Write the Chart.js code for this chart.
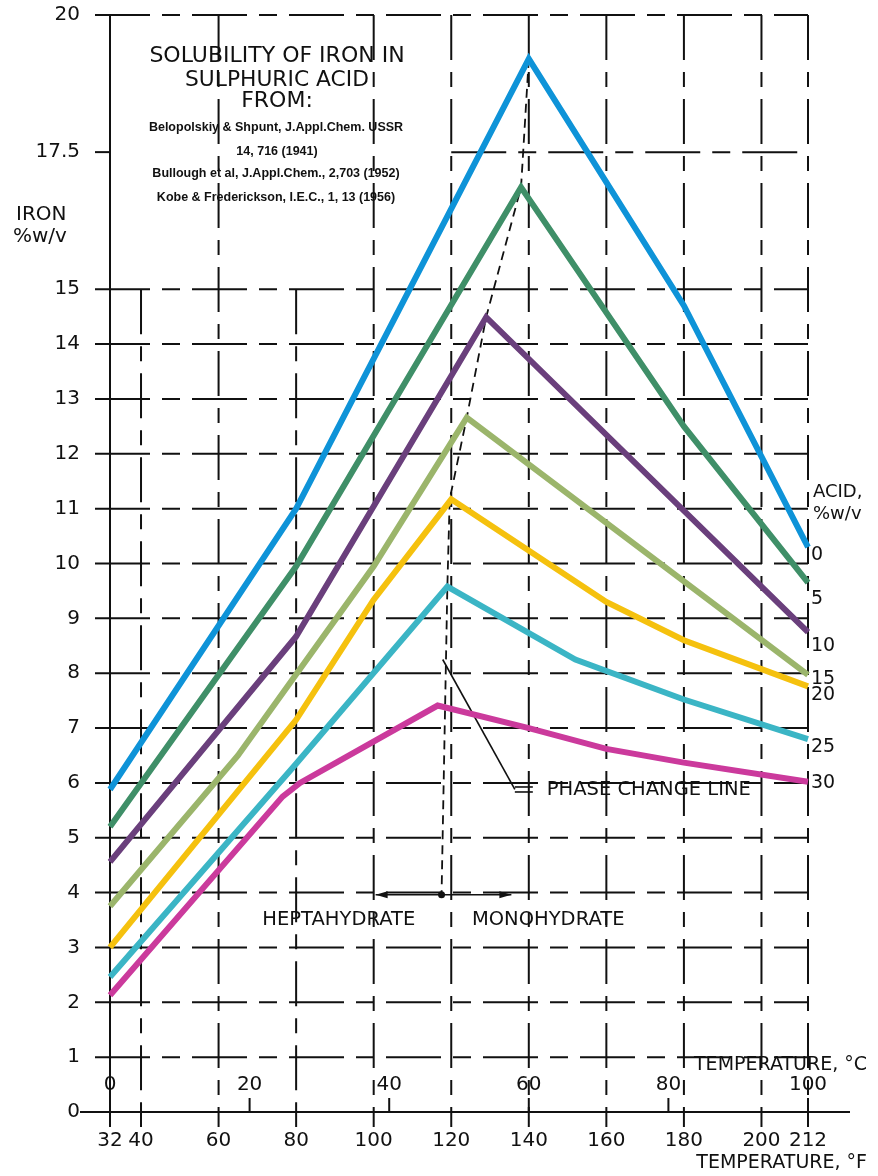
<!DOCTYPE html>
<html>
<head>
<meta charset="utf-8">
<script src="https://cdn.jsdelivr.net/npm/chart.js@4.4.1/dist/chart.umd.min.js"></script>
<style>
  html, body { margin: 0; padding: 0; background: #fff; }
  #wrap { width: 878px; height: 1176px; position: relative; }
</style>
</head>
<body>
<div id="wrap"><canvas id="solubilityChart"></canvas></div>
<script>
// Acid strength, %w/v (one curve each)
const acidLabels = ['0', '5', '10', '15', '20', '25', '30'];

// Temperature (deg F) and iron solubility (%w/v)
const acid0Temp = [32, 80, 140, 180, 212];
const acid0Iron = [5.88, 11.0, 19.2, 14.7, 10.3];
const acid5Temp = [32, 80, 138, 180, 212];
const acid5Iron = [5.2, 9.95, 16.86, 12.5, 9.65];
const acid10Temp = [32, 80, 129, 212];
const acid10Iron = [4.56, 8.67, 14.49, 8.75];
const acid15Temp = [32, 65, 100, 124, 212];
const acid15Iron = [3.75, 6.5, 9.95, 12.66, 7.97];
const acid20Temp = [32, 80, 100, 120, 160, 180, 212];
const acid20Iron = [3.0, 7.15, 9.34, 11.17, 9.3, 8.6, 7.76];
const acid25Temp = [32, 80, 119, 152, 180, 212];
const acid25Iron = [2.46, 6.35, 9.58, 8.25, 7.52, 6.8];
const acid30Temp = [32, 76.5, 81, 116.5, 140, 160, 180, 212];
const acid30Iron = [2.13, 5.75, 6.0, 7.41, 7.0, 6.62, 6.37, 6.02];

// Phase change line (monohydrate / heptahydrate boundary)
const phaseTemp = [140, 138, 129, 124, 119.6, 119, 117.5];
const phaseIron = [19.2, 16.86, 14.49, 12.66, 11.17, 9.58, 3.96];

// Axis ticks
const ironTicks = [0, 1, 2, 3, 4, 5, 6, 7, 8, 9, 10, 11, 12, 13, 14, 15, 17.5, 20];
const tempFTicks = [32, 40, 60, 80, 100, 120, 140, 160, 180, 200, 212];
const tempCTicks = [0, 20, 40, 60, 80, 100];

const seriesTemps = [acid0Temp, acid5Temp, acid10Temp, acid15Temp, acid20Temp, acid25Temp, acid30Temp];
const seriesIron = [acid0Iron, acid5Iron, acid10Iron, acid15Iron, acid20Iron, acid25Iron, acid30Iron];
const seriesColors = ['#0e93d8', '#3f8f68', '#6a3f7c', '#9bb56b', '#f5c10e', '#3bb5c5', '#cb3a9c'];
const labelIronPos = [10.15, 9.35, 8.5, 7.9, 7.6, 6.65, 6.0];

const FONT = '"DejaVu Sans", sans-serif';
const INK = '#111';

function toPoints(xs, ys) {
    return xs.map((v, i) => ({ x: v, y: ys[i] }));
}

function seg(ctx, x1, y1, x2, y2) {
    ctx.beginPath();
    ctx.moveTo(x1, y1);
    ctx.lineTo(x2, y2);
    ctx.stroke();
}

function arrowHead(ctx, x, y, dir) {
    ctx.beginPath();
    ctx.moveTo(x, y);
    ctx.lineTo(x - dir * 12, y - 3.5);
    ctx.lineTo(x - dir * 12, y + 3.5);
    ctx.closePath();
    ctx.fill();
}

// Grid, axes and the phase change markings, drawn under the curves
const paperGrid = {
    id: 'paperGrid',
    beforeDatasetsDraw(chart) {
        const { ctx, chartArea: a, scales: { x, y } } = chart;
        ctx.save();
        ctx.strokeStyle = INK;
        ctx.fillStyle = INK;
        ctx.lineWidth = 2;

        // horizontal dashed lines
        ctx.setLineDash([55, 12, 18, 12]);
        ironTicks.forEach(v => {
            if (v === 0) return;
            const py = y.getPixelForValue(v);
            if (v === 17.5) {
                ctx.setLineDash([]);
                seg(ctx, a.left - 15, py, a.left, py);
                ctx.setLineDash([55, 12, 18, 12]);
                seg(ctx, x.getPixelForValue(120), py, a.right, py);
            } else {
                seg(ctx, a.left - 15, py, a.right, py);
            }
        });

        // vertical dashed lines
        ctx.setLineDash([45, 12, 15, 12]);
        tempFTicks.forEach(v => {
            if (v === 32) return;
            const px = x.getPixelForValue(v);
            const top = (v === 40 || v === 80) ? y.getPixelForValue(15) : a.top;
            seg(ctx, px, top, px, a.bottom);
            ctx.setLineDash([]);
            seg(ctx, px, a.bottom, px, a.bottom + 15);
            ctx.setLineDash([45, 12, 15, 12]);
        });

        // solid axes
        ctx.setLineDash([]);
        seg(ctx, a.left, a.top, a.left, a.bottom + 15);
        seg(ctx, a.left - 30, a.bottom, a.right + 42, a.bottom);

        // celsius ticks
        tempCTicks.forEach(c => {
            const px = x.getPixelForValue(c * 9 / 5 + 32);
            seg(ctx, px, a.bottom - 14, px, a.bottom);
        });

        // phase change line
        ctx.lineWidth = 1.8;
        ctx.setLineDash([9, 6]);
        ctx.beginPath();
        phaseTemp.forEach((t, i) => {
            const px = x.getPixelForValue(t), py = y.getPixelForValue(phaseIron[i]);
            if (i === 0) ctx.moveTo(px, py); else ctx.lineTo(px, py);
        });
        ctx.stroke();

        // leader to the label
        ctx.setLineDash([]);
        ctx.lineWidth = 1.6;
        const lx1 = x.getPixelForValue(117.8), ly1 = y.getPixelForValue(8.25);
        const lx2 = x.getPixelForValue(136.4), ly2 = y.getPixelForValue(5.88);
        seg(ctx, lx1, ly1, lx2, ly2);
        seg(ctx, lx2, ly2 - 2.5, lx2 + 18, ly2 - 2.5);
        seg(ctx, lx2, ly2 + 2.5, lx2 + 18, ly2 + 2.5);

        // heptahydrate / monohydrate arrows
        const ay = y.getPixelForValue(3.96);
        const ax = x.getPixelForValue(117.5);
        const axL = x.getPixelForValue(100.5), axR = x.getPixelForValue(135.5);
        seg(ctx, axL, ay, axR, ay);
        arrowHead(ctx, axL, ay, -1);
        arrowHead(ctx, axR, ay, 1);
        ctx.beginPath();
        ctx.arc(ax, ay, 3.5, 0, Math.PI * 2);
        ctx.fill();
        ctx.restore();
    },
    afterDraw(chart) {
        const { ctx, chartArea: a, scales: { x, y } } = chart;
        ctx.save();
        ctx.fillStyle = INK;
        ctx.textBaseline = 'middle';

        // title block
        ctx.textAlign = 'center';
        ctx.font = '22px ' + FONT;
        ctx.fillText('SOLUBILITY OF IRON IN', 277, 56, 268);
        ctx.fillText('SULPHURIC ACID', 277, 80, 184);
        ctx.fillText('FROM:', 277, 101);
        ctx.font = 'bold 12.5px "Liberation Sans", sans-serif';
        ctx.fillText('Belopolskiy & Shpunt, J.Appl.Chem. USSR', 276, 128, 286);
        ctx.fillText('14, 716 (1941)', 277, 152, 102);
        ctx.fillText('Bullough et al, J.Appl.Chem., 2,703 (1952)', 276, 174, 286);
        ctx.fillText('Kobe & Frederickson, I.E.C., 1, 13 (1956)', 276, 198, 284);

        // y axis title
        ctx.textAlign = 'left';
        ctx.font = '20px ' + FONT;
        ctx.fillText('IRON', 16, 215);
        ctx.fillText('%w/v', 13, 237, 55);

        // curve labels
        ctx.font = '18px ' + FONT;
        ctx.fillText('ACID,', 813, 492, 52);
        ctx.fillText('%w/v', 813, 514, 50);
        ctx.font = '19px ' + FONT;
        acidLabels.forEach((lab, i) => {
            ctx.fillText(lab, a.right + 3, y.getPixelForValue(labelIronPos[i]));
        });

        // celsius scale
        ctx.textAlign = 'center';
        ctx.font = '20px ' + FONT;
        tempCTicks.forEach(c => {
            ctx.fillText(String(c), x.getPixelForValue(c * 9 / 5 + 32), a.bottom - 27);
        });
        ctx.textAlign = 'right';
        ctx.font = '19px ' + FONT;
        ctx.fillText('TEMPERATURE, °C', 867, a.bottom - 47, 183);
        ctx.fillText('TEMPERATURE, °F', 867, 1163, 183);

        // annotations
        ctx.textAlign = 'left';
        ctx.font = '19.5px ' + FONT;
        ctx.fillText('PHASE CHANGE LINE', x.getPixelForValue(136.4) + 32, y.getPixelForValue(5.88), 228);
        ctx.textAlign = 'center';
        ctx.fillText('HEPTAHYDRATE', x.getPixelForValue(91), y.getPixelForValue(3.5), 160);
        ctx.fillText('MONOHYDRATE', x.getPixelForValue(145), y.getPixelForValue(3.5), 154);
        ctx.restore();
    }
};

document.addEventListener('DOMContentLoaded', function() {
    const ctx = document.getElementById('solubilityChart').getContext('2d');

    const datasets = acidLabels.map((lab, i) => ({
        label: lab + ' %w/v acid',
        data: toPoints(seriesTemps[i], seriesIron[i]),
        borderColor: seriesColors[i],
        backgroundColor: seriesColors[i],
        borderWidth: 6,
        borderJoinStyle: 'miter',
        pointRadius: 0,
        tension: 0,
        fill: false,
        clip: 8
    }));

    new Chart(ctx, {
        type: 'line',
        data: { datasets: datasets },
        options: {
            responsive: true,
            maintainAspectRatio: false,
            animation: false,
            layout: { padding: { top: 15, right: 70, left: 0, bottom: 0 } },
            scales: {
                x: {
                    type: 'linear',
                    min: 32,
                    max: 212,
                    afterBuildTicks: scale => { scale.ticks = tempFTicks.map(v => ({ value: v })); },
                    afterFit: scale => { scale.height = 64; },
                    grid: { display: false, drawTicks: false },
                    border: { display: false },
                    ticks: {
                        autoSkip: false,
                        maxRotation: 0,
                        padding: 17,
                        color: INK,
                        font: { family: FONT, size: 20 }
                    }
                },
                y: {
                    type: 'linear',
                    min: 0,
                    max: 20,
                    afterBuildTicks: scale => { scale.ticks = ironTicks.map(v => ({ value: v })); },
                    afterFit: scale => {
                        // keep the label gap from pushing the plot down
                        scale.width = 110;
                        scale.paddingTop = 10;
                        scale.paddingBottom = 10;
                    },
                    grid: { display: false, drawTicks: false },
                    border: { display: false },
                    ticks: {
                        padding: 30,
                        color: INK,
                        font: { family: FONT, size: 20 }
                    }
                }
            },
            plugins: {
                legend: { display: false },
                tooltip: { enabled: false }
            }
        },
        plugins: [paperGrid]
    });
});
</script>
</body>
</html>
